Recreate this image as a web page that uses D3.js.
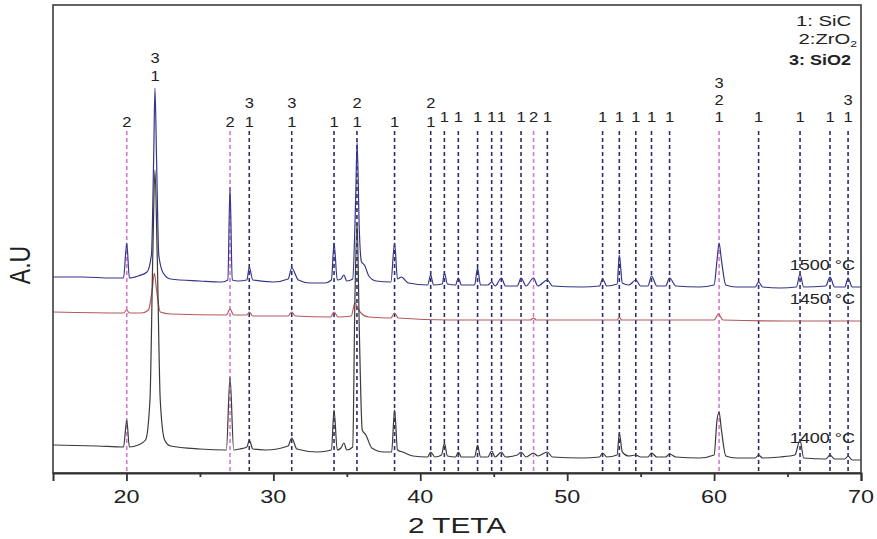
<!DOCTYPE html>
<html>
<head>
<meta charset="utf-8">
<script src="https://cdn.jsdelivr.net/npm/d3@7"></script>
<style>
  body { margin: 0; background: #fff; }
  text { font-family: "Liberation Sans", Arial, sans-serif; fill: #222; }
</style>
</head>
<body>
<svg id="chart" width="877" height="539"></svg>
<script>
// peak positions (2 theta), phase numbers shown above each line (top to bottom)
const peakPos    = [20.02, 21.94, 27.05, 28.36, 31.25, 34.13, 35.69, 38.25, 40.71, 41.64, 42.59, 43.90, 44.86, 45.52, 46.86, 47.71, 48.65,
                    52.41, 53.55, 54.67, 55.74, 56.97, 60.34, 63.03, 65.85, 67.89, 69.12];
const peakPhases = [["2"], ["3","1"], ["2"], ["3","1"], ["3","1"], ["1"], ["2","1"], ["1"], ["2","1"], ["1"], ["1"], ["1"], ["1"], ["1"], ["1"], ["2"], ["1"],
                    ["1"], ["1"], ["1"], ["1"], ["1"], ["3","2","1"], ["1"], ["1"], ["1"], ["3","1"]];
// phase marked by the dashed line (null = no line)
const linePhase  = ["2", null, "2", "1", "1", "1", "1", "1", "1", "1", "1", "1", "1", "1", "1", "2", "1",
                    "1", "1", "1", "1", "1", "2", "1", "1", "1", "1"];

const phaseNames = ["1: SiC", "2:ZrO", "3: SiO2"];
const xTicks = [20, 30, 40, 50, 60, 70];

// traces: [2theta, intensity a.u.]
const trace1500 = [[15,196],[17,196],[19,195],[19.8,195],[20.02,230],[20.2,195],[20.8,197],[21.4,201],[21.7,218],[21.85,313],[21.94,385],[22.05,313],[22.2,218],[22.5,200],[23,194],
  [25,192],[26.5,191],[26.9,193],[27.05,286],[27.2,193],[27.6,192],[28.2,193],[28.36,206],[28.6,193],[30,191],[31,194],[31.25,205],[31.7,193],[32.5,190],[33.5,190],
  [33.95,193],[34.13,230],[34.35,193],[34.6,194],[34.8,198],[35,192],[35.4,194],[35.6,273],[35.7,331],[35.85,243],[36,211],[36.2,208],[36.5,197],[37,192],[38,191],
  [38.25,230],[38.45,194],[38.7,196],[39.2,190],[40.5,188],[40.71,198],[40.9,188],[41.5,189],[41.64,200],[41.85,189],[42.4,188],[42.59,195],[42.8,188],[43.7,188],
  [43.9,205],[44.1,188],[44.6,188],[44.86,191],[45.1,187],[45.52,195],[45.8,187],[46.6,187],[46.86,195],[47.2,187],[47.71,195],[48,187],[48.65,193],[49,187],[51,186],
  [52.2,187],[52.41,194],[52.7,187],[53.4,189],[53.55,218],[53.75,190],[54.2,188],[54.67,193],[55,187],[55.5,187],[55.74,197],[56.1,187],[56.7,187],[56.97,195],
  [57.4,187],[59,186],[60,188],[60.2,213],[60.34,230],[60.5,213],[60.8,188],[61.5,186],[62.8,186],[63.03,191],[63.3,186],[64.5,185],[65.6,186],[65.85,199],[66.1,186],
  [67.6,187],[67.89,196],[68.2,186],[68.9,186],[69.12,195],[69.4,186],[70,186]];
const trace1450 = [[15,161],[19.8,160],[20.02,163],[20.2,160],[21,160],[21.5,163],[21.75,183],[21.9,200],[22.05,183],[22.3,161],[23,159],[26.8,158],[27.05,164],[27.3,158],
  [28.2,158],[28.36,161],[28.6,157],[31,157],[31.25,161],[31.5,157],[33.9,156],[34.13,161],[34.4,156],[35.3,157],[35.55,170],[35.9,161],[36.5,156],[38,155],[38.25,160],
  [38.5,155],[42,153],[47.5,153],[47.71,155],[47.9,153],[53.4,153],[53.55,156],[53.7,153],[60,153],[60.3,159],[60.6,153],[65,152],[70,152]];
const trace1400 = [[15,28],[18,27],[19.8,26],[20.02,53],[20.2,26],[20.8,28],[21.3,33],[21.6,73],[21.8,223],[21.94,303],[22.1,213],[22.3,73],[22.6,33],[23,27],[25,24],
  [26.8,23],[27.05,96],[27.3,23],[27.7,24],[28.2,26],[28.36,33],[28.6,24],[29.5,23],[31,27],[31.25,35],[31.6,24],[33,21],[33.95,23],[34.13,63],[34.35,23],[34.6,25],
  [34.8,30],[35,23],[35.4,26],[35.55,173],[35.7,251],[35.85,143],[36.05,43],[36.3,38],[36.7,25],[37.5,21],[38.05,21],[38.25,63],[38.45,23],[38.8,21],[39.5,17],
  [40.5,16],[40.71,21],[41,16],[41.45,18],[41.64,30],[41.85,17],[42.4,16],[42.59,21],[42.8,16],[43.7,16],[43.9,28],[44.1,16],[44.6,16],[44.86,22],[45.1,16],
  [45.52,21],[45.8,16],[46.6,18],[46.86,21],[47.2,16],[47.71,20],[48,17],[48.65,21],[49,16],[51,15],[52.2,16],[52.41,20],[52.7,16],[53.4,18],[53.55,40],[53.75,21],
  [54.2,17],[54.67,18],[55,16],[55.5,16],[55.74,20],[56.1,16],[56.7,16],[56.97,19],[57.4,16],[59,15],[60,18],[60.2,53],[60.34,61],[60.5,43],[60.8,17],[61.5,15],
  [62.8,15],[63.03,18],[63.3,15],[64.5,16],[65.5,18],[65.85,33],[66.1,15],[67.6,14],[67.89,18],[68.2,14],[68.9,14],[69.12,17],[69.4,13],[70,13]];

const traces = [
    {name: "1500 °C", data: trace1500, color: "#35358c"},
    {name: "1450 °C", data: trace1450, color: "#b5585c"},
    {name: "1400 °C", data: trace1400, color: "#3a3a3a"}
];

const svg = d3.select("#chart");
const mLeft = 53, mRight = 861, mTop = 5, mBottom = 473;

const x = d3.scaleLinear().domain([15, 70]).range([mLeft, mRight]);
const y = d3.scaleLinear().domain([0, 468]).range([mBottom, mTop]);
const lineColor = d3.scaleOrdinal().domain(["1", "2"]).range(["#2d2d6e", "#d677d2"]);

const sx = 1.3;   // the original picture is stretched sideways

// temperature labels (under the dashed lines)
traces.forEach(function(t) {
    const last = t.data[t.data.length - 1];
    svg.append("text")
        .attr("transform", "translate(855," + (y(last[1]) - 17) + ") scale(1.2,1)")
        .attr("text-anchor", "end")
        .style("font-size", "15px")
        .text(t.name);
});

// dashed reference lines
const lines = peakPos.map(function(p, i) { return {pos: p, phase: linePhase[i]}; })
    .filter(function(d) { return d.phase; });

svg.append("g")
    .selectAll("line")
    .data(lines)
    .enter().append("line")
    .attr("x1", function(d) { return x(d.pos); })
    .attr("x2", function(d) { return x(d.pos); })
    .attr("y1", 131)
    .attr("y2", mBottom)
    .attr("stroke", function(d) { return lineColor(d.phase); })
    .attr("stroke-width", 1.6)
    .attr("stroke-dasharray", "4,3");

// traces
const line = d3.line()
    .x(function(d) { return x(d[0]); })
    .y(function(d) { return y(d[1]); })
    .curve(d3.curveMonotoneX);

svg.append("g")
    .selectAll("path")
    .data(traces)
    .enter().append("path")
    .attr("d", function(d) { return line(d.data); })
    .attr("fill", "none")
    .attr("stroke", function(d) { return d.color; })
    .attr("stroke-width", 1.2);

// phase numbers above the lines
peakPos.forEach(function(p, i) {
    const stack = peakPhases[i];
    let base, step;
    if (!linePhase[i]) {
        // label sits right above the tallest peak
        base = y(d3.max(trace1500, function(d) { return Math.abs(d[0] - p) < 0.01 ? d[1] : 0; })) - 7;
        step = 18;
    } else if (p < 41) {
        base = 127; step = 19;
    } else {
        base = 122; step = 17;
    }
    stack.slice().reverse().forEach(function(s, k) {
        svg.append("text")
            .attr("transform", "translate(" + x(p) + "," + (base - k * step) + ") scale(1.1,1)")
            .attr("text-anchor", "middle")
            .style("font-size", "15px")
            .text(s);
    });
});

// legend
const legend = svg.append("g");
legend.append("text")
    .attr("transform", "translate(851,26) scale(1.35,1)")
    .attr("text-anchor", "end")
    .style("font-size", "15px")
    .text(phaseNames[0]);
const zr = legend.append("text")
    .attr("transform", "translate(857,44) scale(1.35,1)")
    .attr("text-anchor", "end")
    .style("font-size", "15px");
zr.append("tspan").text(phaseNames[1]);
zr.append("tspan").attr("dy", 3).style("font-size", "9px").text("2");
legend.append("text")
    .attr("transform", "translate(851,65) scale(1.2,1)")
    .attr("text-anchor", "end")
    .style("font-size", "15px")
    .style("font-weight", "bold")
    .text(phaseNames[2]);

// frame
svg.append("rect")
    .attr("x", mLeft).attr("y", mTop)
    .attr("width", mRight - mLeft).attr("height", mBottom - mTop)
    .attr("fill", "none")
    .attr("stroke", "#3c3c3c")
    .attr("stroke-width", 1.6);

// bottom axis
const xAxis = d3.axisBottom(x).tickValues(xTicks).tickSize(8).tickFormat("");
const gx = svg.append("g").attr("transform", "translate(0," + mBottom + ")").call(xAxis);
gx.select(".domain").attr("stroke", "#333").attr("stroke-width", 2);
gx.selectAll(".tick line").attr("stroke", "#333").attr("stroke-width", 1.8);

const minor = d3.axisBottom(x).tickValues([25, 35, 45, 55, 65]).tickSize(4).tickFormat("");
const gm = svg.append("g").attr("transform", "translate(0," + mBottom + ")").call(minor);
gm.select(".domain").remove();
gm.selectAll(".tick line").attr("stroke", "#333").attr("stroke-width", 1.8);

svg.append("g")
    .selectAll("text")
    .data(xTicks)
    .enter().append("text")
    .attr("transform", function(d) { return "translate(" + x(d) + ",503) scale(1.3,1)"; })
    .attr("text-anchor", "middle")
    .style("font-size", "18px")
    .text(function(d) { return d; });

svg.append("text")
    .attr("transform", "translate(" + ((mLeft + mRight) / 2) + ",533) scale(1.35,1)")
    .attr("text-anchor", "middle")
    .style("font-size", "22px")
    .text("2 TETA");

svg.append("text")
    .attr("transform", "translate(30,265) scale(1.3,1) rotate(-90)")
    .attr("text-anchor", "middle")
    .style("font-size", "23px")
    .text("A.U");
</script>
</body>
</html>
